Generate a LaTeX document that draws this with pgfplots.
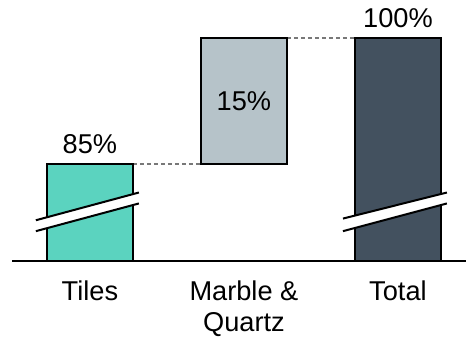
\documentclass[border=0pt]{standalone}
\usepackage{fontspec}
\setmainfont{Liberation Sans}
\usepackage{pgfplots}
\pgfplotsset{compat=1.18}
\definecolor{tilesc}{RGB}{91,211,191}
\definecolor{marblec}{RGB}{182,195,201}
\definecolor{totalc}{RGB}{67,81,95}
\definecolor{linkc}{RGB}{120,120,120}
\newcommand{\lblfont}{\fontsize{13.6}{15.5}\selectfont}
\begin{document}
\begin{tikzpicture}
\useasboundingbox (-6pt,-39.5pt) rectangle (227pt,130.5pt);
\begin{axis}[
  at={(0pt,0pt)}, anchor=south west,
  scale only axis, width=227pt, height=130.5pt,
  xmin=-0.506, xmax=2.442, ymin=73.45, ymax=104.52,
  axis x line*=bottom, axis y line=none,
  x axis line style={line width=1pt, black, -},
  xtick={0,1,2}, xticklabels={Tiles,{Marble \&\\Quartz},Total},
  xticklabel style={align=center, font=\lblfont, yshift=-6.5pt},
  major tick length=0pt,
  ytick=\empty,
  bar width=0.558,
  /pgf/number format/assume math mode=true,
  every node near coord/.append style={font=\lblfont, black, yshift=1.2pt},
]
% connectors between consecutive steps
\addplot[linkc, line width=0.6pt, dash pattern=on 2pt off 1.5pt] coordinates {(0.279,85) (0.721,85)};
\addplot[linkc, line width=0.6pt, dash pattern=on 2pt off 1.5pt] coordinates {(1.279,100) (1.721,100)};
% Tiles
\addplot[ybar, bar shift=0pt, fill=tilesc, draw=black, line width=1pt,
  nodes near coords={\pgfmathprintnumber{\pgfplotspointmeta}\%}] coordinates {(0,85)};
% Marble & Quartz increment (85 -> 100)
\addplot[fill=marblec, draw=black, line width=1pt] coordinates {(0.721,85) (1.279,85) (1.279,100) (0.721,100)} -- cycle;
\node[font=\lblfont] at (axis cs:1,92.5) {15\%};
% Total
\addplot[ybar, bar shift=0pt, fill=totalc, draw=black, line width=1pt,
  nodes near coords={\pgfmathprintnumber{\pgfplotspointmeta}\%}] coordinates {(2,100)};
% axis break marks
\addplot[fill=white, draw=none] coordinates {(-0.351,78.3) (0.318,81.6) (0.318,80.3) (-0.351,77.0)} -- cycle;
\addplot[black, line width=1pt] coordinates {(-0.351,78.3) (0.318,81.6)};
\addplot[black, line width=1pt] coordinates {(-0.351,77.0) (0.318,80.3)};
\addplot[fill=white, draw=none] coordinates {(1.643,78.5) (2.318,81.6) (2.318,80.3) (1.643,77.0)} -- cycle;
\addplot[black, line width=1pt] coordinates {(1.643,78.5) (2.318,81.6)};
\addplot[black, line width=1pt] coordinates {(1.643,77.0) (2.318,80.3)};
\end{axis}
\end{tikzpicture}
\end{document}
